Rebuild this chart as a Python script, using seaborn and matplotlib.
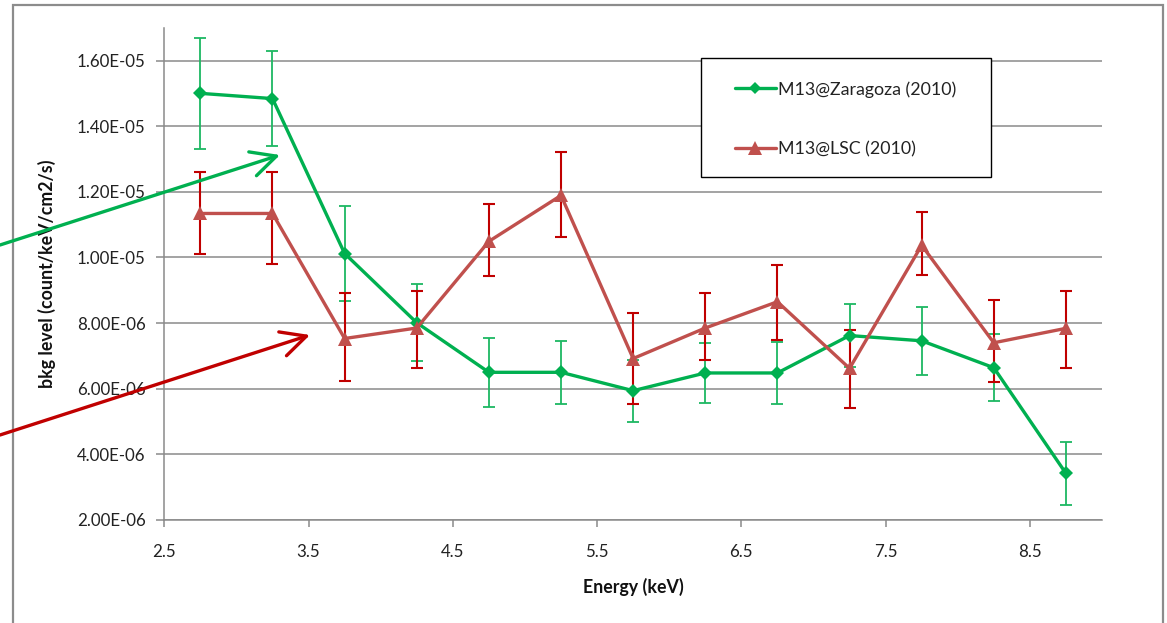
import numpy as np
import pandas as pd
import matplotlib
matplotlib.use("Agg")
import matplotlib.pyplot as plt
import seaborn as sns
from matplotlib.lines import Line2D
from matplotlib.patches import Rectangle, FancyArrowPatch
from matplotlib.ticker import FixedLocator, FuncFormatter

# ---------------- data ----------------
energy = [2.75, 3.25, 3.75, 4.25, 4.75, 5.25, 5.75, 6.25, 6.75, 7.25, 7.75, 8.25, 8.75]

zaragoza = [1.500e-5, 1.484e-5, 1.012e-5, 8.01e-6, 6.50e-6, 6.50e-6, 5.94e-6,
            6.48e-6, 6.48e-6, 7.62e-6, 7.46e-6, 6.64e-6, 3.42e-6]
zaragoza_err = [1.70e-6, 1.45e-6, 1.44e-6, 1.18e-6, 1.05e-6, 0.96e-6, 0.95e-6,
                0.91e-6, 0.95e-6, 0.96e-6, 1.04e-6, 1.02e-6, 0.96e-6]

lsc = [1.134e-5, 1.134e-5, 7.53e-6, 7.85e-6, 1.049e-5, 1.189e-5, 6.92e-6,
       7.85e-6, 8.65e-6, 6.62e-6, 1.037e-5, 7.40e-6, 7.84e-6]
lsc_err_low = [1.25e-6, 1.55e-6, 1.29e-6, 1.21e-6, 1.06e-6, 1.27e-6, 1.40e-6,
               0.96e-6, 1.16e-6, 1.20e-6, 0.92e-6, 1.19e-6, 1.20e-6]
lsc_err_high = [1.26e-6, 1.26e-6, 1.38e-6, 1.12e-6, 1.13e-6, 1.32e-6, 1.40e-6,
                1.07e-6, 1.12e-6, 1.18e-6, 1.02e-6, 1.30e-6, 1.13e-6]

series_names = ["M13@Zaragoza (2010)", "M13@LSC (2010)"]
x_ticks = [2.5, 3.5, 4.5, 5.5, 6.5, 7.5, 8.5]
y_ticks = [2e-6, 4e-6, 6e-6, 8e-6, 1.0e-5, 1.2e-5, 1.4e-5, 1.6e-5]

green = "#00B050"
green_err = "#1DB862"
red = "#C0504D"
red_err = "#C00000"

# ---------------- figure ----------------
sns.set_theme(style="white")
plt.rcParams["font.family"] = ["Lato", "DejaVu Sans"]

W, H = 1167, 623
fig = plt.figure(figsize=(W / 100, H / 100), dpi=100)
ax = fig.add_axes([164.3 / W, 1 - 520 / H, (1102 - 164.3) / W, (520 - 27.7) / H])

df_z = pd.DataFrame({"Energy": energy, "bkg": zaragoza})
df_l = pd.DataFrame({"Energy": energy, "bkg": lsc})

# error bars
ax.errorbar(energy, zaragoza, yerr=zaragoza_err, fmt="none", ecolor=green_err,
            elinewidth=1.3, capsize=4.2, capthick=1.3, zorder=3)
ax.errorbar(energy, lsc, yerr=[lsc_err_low, lsc_err_high], fmt="none", ecolor=red_err,
            elinewidth=1.5, capsize=4.2, capthick=1.5, zorder=4)

sns.lineplot(data=df_z, x="Energy", y="bkg", ax=ax, color=green, linewidth=2.4,
             marker="D", markersize=7.3, markeredgewidth=0, zorder=5, legend=False)
sns.lineplot(data=df_l, x="Energy", y="bkg", ax=ax, color=red, linewidth=2.4,
             marker="^", markersize=10.5, markeredgewidth=0, zorder=6, legend=False)

ax.set_xlim(2.5, 9.0)
ax.set_ylim(2e-6, 1.7e-5)
ax.xaxis.set_major_locator(FixedLocator(x_ticks))
ax.yaxis.set_major_locator(FixedLocator(y_ticks))
ax.xaxis.set_major_formatter(FuncFormatter(lambda v, p: f"{v:.1f}"))
ax.yaxis.set_major_formatter(FuncFormatter(lambda v, p: f"{v:.2E}"))

ax.grid(axis="y", color="#8a8a8a", linewidth=1.1)
ax.grid(axis="x", visible=False)
for s in ["top", "right"]:
    ax.spines[s].set_visible(False)
for s in ["left", "bottom"]:
    ax.spines[s].set_color("#8a8a8a")
    ax.spines[s].set_linewidth(1.1)

ax.tick_params(axis="y", direction="out", length=6, width=1.1, color="#8a8a8a",
               labelsize=12.2, labelcolor="#222222", pad=7.4, left=True)
ax.tick_params(axis="x", direction="out", length=5, width=1.1, color="#8a8a8a",
               labelsize=12.2, labelcolor="#222222", pad=12, bottom=True)

ax.set_xlabel("Energy (keV)", fontsize=12.8, fontweight="bold", labelpad=13, color="#111111")
ax.set_ylabel("bkg level (count/keV/cm2/s)", fontsize=12.8, fontweight="bold", labelpad=15,
              color="#111111")

handles = [
    Line2D([0], [0], color=green, lw=2.4, marker="D", markersize=6, markeredgewidth=0),
    Line2D([0], [0], color=red, lw=2.4, marker="^", markersize=9.5, markeredgewidth=0),
]
axw, axh = 1102 - 164.3, 520 - 27.7
leg = ax.legend(handles, series_names, loc="upper left",
                bbox_to_anchor=((735 - 164.3) / axw, (520 - 81) / axh),
                frameon=False, fontsize=12.8, labelspacing=2.45,
                borderpad=0, handlelength=2.3, handletextpad=0.1,
                borderaxespad=0)
for t in leg.get_texts():
    t.set_color("#222222")

# legend frame box
ax.add_patch(Rectangle(((701 - 164.3) / axw, (520 - 177.3) / axh),
                       (991 - 701) / axw, (177.3 - 58.3) / axh,
                       transform=ax.transAxes, facecolor="white",
                       edgecolor="#000000", linewidth=1.0, zorder=7))
leg.set_zorder(8)

# outer chart frame
fig.patches.append(Rectangle((13 / W, -0.02), (1163 - 13) / W, 1 - 5 / H + 0.02,
                             transform=fig.transFigure, fill=False,
                             edgecolor="#8c8c8c", linewidth=1.6, zorder=0))

# annotation arrows
for (x0, y0, x1, y1, c) in [(0, 245, 280, 155, green), (0, 435, 310, 335, red_err)]:
    arr = FancyArrowPatch((x0 / W, 1 - y0 / H), (x1 / W, 1 - y1 / H),
                          transform=fig.transFigure,
                          arrowstyle="->,head_length=0.9,head_width=0.45",
                          mutation_scale=20, color=c, linewidth=2.4,
                          shrinkA=0, shrinkB=0, zorder=10)
    fig.patches.append(arr)

fig.savefig("out.png", dpi=100)
